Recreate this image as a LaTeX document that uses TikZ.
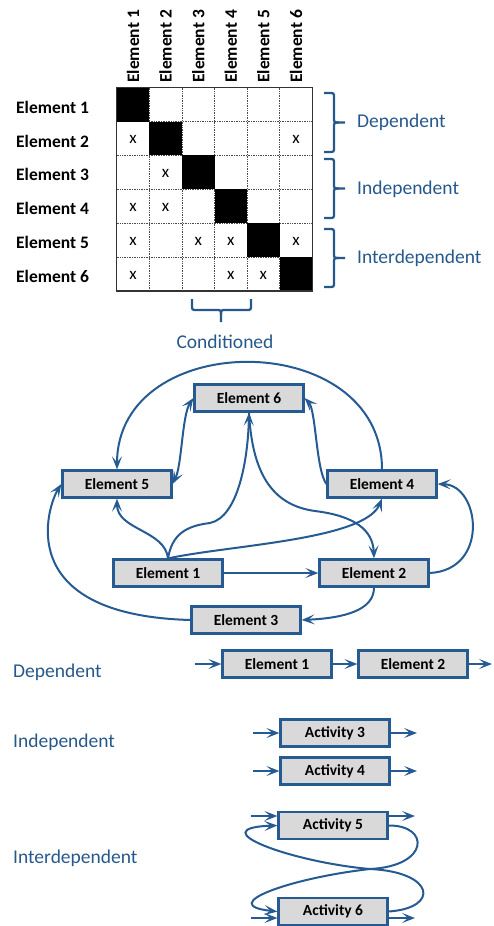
\documentclass[tikz,border=0pt]{standalone}
\usepackage{fontspec}
\setmainfont{Carlito}
\usetikzlibrary{arrows.meta,calc}
\definecolor{linkblue}{RGB}{38,90,146}
\definecolor{labelblue}{RGB}{38,88,140}
\definecolor{boxgray}{RGB}{217,217,217}

% right-hand curly brace: top y, bottom y, middle y
\newcommand\sidebrace[3]{%
  \draw[bracepen] (324,#1) -- (329,#1) .. controls (334,#1) .. (334,{#1+5})
    -- (334,{#3-5}) .. controls (334,#3) .. (339,#3) -- (345,#3);
  \draw[bracepen] (324,#2) -- (329,#2) .. controls (334,#2) .. (334,{#2-5})
    -- (334,{#3+5}) .. controls (334,#3) .. (339,#3);
}

\begin{document}
\begin{tikzpicture}[x=1pt,y=-1pt,
  box/.style={draw=linkblue, fill=boxgray, line width=2.2pt,
    minimum width=109pt, minimum height=27pt, inner sep=0pt,
    font=\fontsize{15.5}{18}\selectfont\bfseries},
  tip/.style={Stealth[length=13pt,width=10pt,inset=6pt]},
  link/.style={draw=linkblue, line width=2pt, -{Stealth[length=13pt,width=10pt,inset=6pt]}},
  twoway/.style={draw=linkblue, line width=2pt,
    {Stealth[length=13pt,width=10pt,inset=6pt]}-{Stealth[length=13pt,width=10pt,inset=6pt]}},
  bracepen/.style={draw=labelblue, line width=2.3pt},
  grp/.style={text=labelblue, font=\fontsize{19.5}{22}\selectfont, anchor=west, inner sep=0pt},
  rowlab/.style={font=\fontsize{17.5}{20}\selectfont\bfseries, anchor=west, inner sep=0pt},
  xmark/.style={font=\fontsize{17}{20}\selectfont, inner sep=0pt},
]
\useasboundingbox (0,0) rectangle (493,926);

% ---------- dependency matrix ----------
\def\mx{116.7}\def\my{87.7}\def\cw{32.6}\def\ch{33.88}
\foreach \i in {1,...,5} {
  \draw[densely dotted, black!70, line width=0.7pt] ({\mx+\cw*\i},\my) -- ++(0,{6*\ch});
  \draw[densely dotted, black!70, line width=0.7pt] (\mx,{\my+\ch*\i}) -- ++({6*\cw},0);
}
\foreach \i in {1,...,6}
  \fill[black] ({\mx+\cw*(\i-1)},{\my+\ch*(\i-1)}) rectangle ++(\cw,\ch);
\draw[line width=1.2pt, black!80] (\mx,\my) rectangle ++({6*\cw},{6*\ch});

\foreach \i in {1,...,6} {
  \node[rowlab] (r\i) at (16,{\my+\ch*(\i-0.5)+2.5}) {Element \i};
  \node[rowlab, rotate=90] (c\i) at ({\mx+\cw*(\i-0.5)},83) {Element \i};
}
\foreach \r/\c in {2/1,2/6,3/2,4/1,4/2,5/1,5/3,5/4,5/6,6/1,6/4,6/5}
  \node[xmark] (m\r\c) at ({\mx+\cw*(\c-0.5)},{\my+\ch*(\r-0.5)+1}) {x};

% braces and their labels
\sidebrace{93}{152}{122.5}
\sidebrace{159}{218}{188.5}
\sidebrace{229}{287}{258}
\node[grp] (gdep) at (357,122) {Dependent};
\node[grp] (gind) at (357,189) {Independent};
\node[grp] (gint) at (357,258) {Interdependent};

\draw[bracepen] (192,299) -- (192,305) .. controls (192,310) .. (197,310) -- (216,310)
  .. controls (221,310) .. (221,315) -- (221,322);
\draw[bracepen] (251,299) -- (251,305) .. controls (251,310) .. (246,310) -- (226,310)
  .. controls (221,310) .. (221,315);
\node[text=labelblue, font=\fontsize{19.5}{22}\selectfont, inner sep=0pt] (gcond) at (225,342) {Conditioned};

% ---------- element graph ----------
\node[box] (e6) at (249,398) {Element 6};
\node[box] (e5) at (117,484) {Element 5};
\node[box] (e4) at (382,484) {Element 4};
\node[box] (e1) at (168,573) {Element 1};
\node[box] (e2) at (374,573) {Element 2};
\node[box] (e3) at (246,620) {Element 3};

\draw[link] (e1.east) -- (e2.west);
\draw[link] (e2.south) .. controls (374,610) and (345,618) .. (e3.east);
\draw[link] (e3.west) .. controls (10,615) and (48,505) .. (e5.west);
\draw[link] (e2.east) .. controls (490,570) and (480,485) .. (e4.east);
\draw[link] (e1.north) .. controls (165,530) and (117,530) .. (e5.south);
\draw[link] (e1.north) .. controls (172,535) and (185,526) .. (210,523)
  .. controls (238,517) and (248,460) .. (e6.south);
\draw[link] (e1.north) .. controls (230,545) and (365,540) .. (e4.south);
\draw[link] (e6.south) .. controls (252,470) and (270,505) .. (315,511)
  .. controls (355,516) and (373,530) .. (e2.north);
\draw[twoway] (e5.east) .. controls (182,465) and (182,415) .. (e6.west);
\draw[link] (e4.west) .. controls (316,470) and (316,410) .. (e6.east);
\draw[link] (e4.north) .. controls (382,327) and (117,327) .. (e5.north);

% ---------- relationship types ----------
\node[grp] (ldep) at (13,672) {Dependent};
\node[grp] (lind) at (13,742) {Independent};
\node[grp] (lint) at (13,858) {Interdependent};

\node[box] (b1) at (277,664) {Element 1};
\node[box] (b2) at (413,664) {Element 2};
\coordinate (b0) at (195,664);
\coordinate (b3) at (492,664);
\draw[link] (b0) -- (b1.west);
\draw[link] (b1.east) -- (b2.west);
\draw[link] (b2.east) -- (b3);

\node[box] (a3) at (335,733) {Activity 3};
\node[box] (a4) at (335,771) {Activity 4};
\coordinate (a3in) at (253,733);  \coordinate (a3out) at (417,733);
\coordinate (a4in) at (253,771);  \coordinate (a4out) at (417,771);
\draw[link] (a3in) -- (a3.west);  \draw[link] (a3.east) -- (a3out);
\draw[link] (a4in) -- (a4.west);  \draw[link] (a4.east) -- (a4out);

\node[box] (a5) at (333,825.5) {Activity 5};
\node[box] (a6) at (333,911.5) {Activity 6};
\coordinate (a5in) at (251,816);  \coordinate (a5out) at (415,816);
\coordinate (a6in) at (251,918);  \coordinate (a6out) at (415,918);
\draw[link] (a5in) -- (a5in -| a5.west);
\draw[link] (a5out -| a5.east) -- (a5out);
\draw[link] (a6in) -- (a6in -| a6.west);
\draw[link] (a6out -| a6.east) -- (a6out);
\draw[link] (a5.east) .. controls (430,825) and (430,866) .. (370,869)
  .. controls (290,878) and (215,905) .. (a6.west);
\draw[link] (a6.east) .. controls (440,908) and (435,872) .. (370,869)
  .. controls (290,862) and (200,828) .. (a5.west);
\end{tikzpicture}
\end{document}
